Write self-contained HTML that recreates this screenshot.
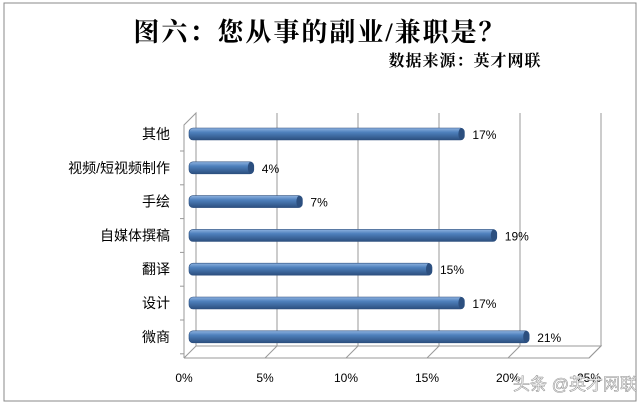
<!DOCTYPE html>
<html><head><meta charset="utf-8"><style>
body{margin:0;background:#fff;width:644px;height:406px;overflow:hidden}
svg{display:block;font-family:"Liberation Sans","Noto Sans CJK SC",sans-serif}
</style></head><body>
<svg width="644" height="406" viewBox="0 0 644 406">
<defs><linearGradient id="bg" x1="0" y1="0" x2="0" y2="1">
<stop offset="0" stop-color="#8fb3e0"/><stop offset="0.35" stop-color="#4f81bd"/><stop offset="1" stop-color="#2c4f7f"/></linearGradient></defs>
<rect x="4" y="3" width="632" height="398" fill="#fff" stroke="#888"/>
<text x="320" y="41" text-anchor="middle" font-size="26" font-weight="bold" letter-spacing="2" font-family="'Liberation Serif','Noto Serif CJK SC',serif">图六：您从事的副业/兼职是？</text>
<text x="465" y="66" text-anchor="middle" font-size="16" font-weight="bold" letter-spacing="1" font-family="'Liberation Serif','Noto Serif CJK SC',serif">数据来源：英才网联</text>
<g id="grid"></g><g id="bars"></g><g id="ticks"></g>
<text x="575" y="390" text-anchor="middle" font-size="17" fill="#fff" stroke="#999" stroke-width="0.6">头条 @英才网联</text>
</svg>
<script>
const categories=["其他","视频/短视频制作","手绘","自媒体撰稿","翻译","设计","微商"];
const values=[17,4,7,19,15,17,21];
const tickValues=[0,5,10,15,20,25];
const tickLabels=["0%","5%","10%","15%","20%","25%"];
const NS="http://www.w3.org/2000/svg";
const X0=184,PX=16.2,FY=358,DX=12,DY=12,TOP=113;
const x=v=>X0+v*PX;
const yC=i=>134+i*33.8;
function mk(t,a,p){const e=document.createElementNS(NS,t);for(const k in a)e.setAttribute(k,a[k]);p.appendChild(e);return e;}
const g=document.getElementById("grid"),b=document.getElementById("bars"),tk=document.getElementById("ticks");
const wall=mk("path",{d:`M${X0} ${FY} L${X0} ${TOP+DY} L${X0+DX} ${TOP} L${X0+DX} ${FY-DY} M${X0} ${FY} L${x(25)} ${FY} L${x(25)+DX} ${FY-DY} L${X0+DX} ${FY-DY}`,fill:"none",stroke:"#999"},g);


tickValues.forEach((v,i)=>{
 const l=mk("path",{d:`M${x(v)} ${FY} L${x(v)+DX} ${FY-DY} L${x(v)+DX} ${TOP}`,fill:"none",stroke:"#999"},g);
 
 
 const t=mk("text",{x:x(v),y:FY+24,"text-anchor":"middle","font-size":12},tk);
 t.textContent=tickLabels[i];
 
 
});
categories.forEach((c,i)=>{
 const y=yC(i);
 const tm=mk("line",{x1:X0-4,y1:y+17,x2:X0,y2:y+17,stroke:"#999"},g);
 
 
 const w=values[i]*PX;
 const r=mk("rect",{x:X0+5,y:y-6,width:w,height:12,rx:4,fill:"url(#bg)",stroke:"#2c4f7f","stroke-width":0.6},b);
 
 
 const e=mk("ellipse",{cx:X0+5+w-3,cy:y,rx:3,ry:6,fill:"#2c4f7f"},b);
 
 
 const lb=mk("text",{x:170,y:y+5,"text-anchor":"end","font-size":14},tk);
 lb.textContent=c;
 
 
 const vl=mk("text",{x:X0+5+w+8,y:y+5,"font-size":12},tk);
 vl.textContent=values[i]+"%";
 
 
});
</script>
</body></html>
